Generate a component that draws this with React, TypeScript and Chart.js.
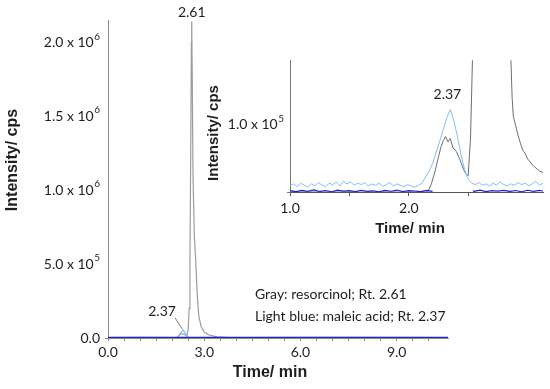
import { useEffect, useRef } from "react";
import { Chart, registerables } from "chart.js";
Chart.register(...registerables);

// ---------- Main chromatogram data ----------
const mainGrayTimes = [0, 2.1, 2.18, 2.25, 2.32, 2.4, 2.46, 2.5, 2.53, 2.555, 2.58, 2.6, 2.61, 2.625, 2.65, 2.69, 2.74, 2.78, 2.83, 2.9, 3.0, 3.15, 3.4, 4.0, 10.6];
const mainGrayValues = [0, 0, 5000, 25000, 30000, 22000, 15000, 60000, 200000, 500000, 1300000, 2000000, 2140000, 1800000, 1100000, 700000, 500000, 300000, 150000, 80000, 40000, 20000, 8000, 0, 0];
const mainBlueTimes = [0, 1.0, 2.0, 2.15, 2.22, 2.28, 2.34, 2.4, 2.45, 2.5, 4.0, 7.0, 10.6];
const mainBlueValues = [3000, 4000, 3000, 4000, 20000, 38000, 55000, 36000, 15000, 4000, 3000, 4000, 3000];
const mainNavyTimes = [0, 10.6];
const mainNavyValues = [2500, 2500];

// ---------- Inset data ----------
const insetBlueTimes = [1.00, 1.03, 1.06, 1.09, 1.12, 1.15, 1.18, 1.21, 1.24, 1.27, 1.30, 1.33, 1.36, 1.39, 1.42, 1.45, 1.48, 1.51, 1.54, 1.57, 1.60, 1.63, 1.66, 1.69, 1.72, 1.75, 1.78, 1.81, 1.84, 1.87, 1.90, 1.93, 1.96, 1.99, 2.02, 2.05, 2.08, 2.11, 2.14, 2.17, 2.20, 2.23, 2.26, 2.29, 2.32, 2.35, 2.38, 2.41, 2.44, 2.47, 2.50, 2.53, 2.56, 2.59, 2.62, 2.65, 2.68, 2.71, 2.74, 2.77, 2.80, 2.83, 2.86, 2.89, 2.92, 2.95, 2.98, 3.01, 3.04, 3.07, 3.10, 3.13];
const insetBlueValues = [9000, 12000, 8000, 13000, 10000, 7000, 12000, 9000, 14000, 10000, 8000, 13000, 11000, 15000, 9000, 16000, 12000, 15000, 10000, 13000, 11000, 14000, 9000, 12000, 10000, 13000, 8000, 11000, 14000, 9000, 12000, 10000, 8000, 11000, 9000, 7000, 10000, 13000, 22000, 30000, 42000, 58000, 75000, 92000, 110000, 122000, 105000, 82000, 55000, 33000, 19000, 13000, 11000, 14000, 10000, 12000, 9000, 13000, 10000, 15000, 11000, 9000, 12000, 10000, 14000, 11000, 13000, 9000, 12000, 16000, 10000, 13000];
const insetGrayTimes = [1.0, 2.16, 2.19, 2.22, 2.25, 2.27, 2.29, 2.31, 2.33, 2.35, 2.37, 2.4, 2.43, 2.46, 2.48, 2.5, 2.52, 2.545, 2.61, 2.84, 2.86, 2.87, 2.88, 2.9, 2.92, 2.94, 2.96, 2.98, 3.0, 3.02, 3.04, 3.06, 3.08, 3.1, 3.13];
const insetGrayValues = [0, 0, 12000, 30000, 52000, 66000, 76000, 82000, 74000, 79000, 66000, 60000, 48000, 34000, 27000, 24000, 80000, 260000, 2140000, 260000, 195000, 140000, 112000, 98000, 84000, 72000, 62000, 57000, 49000, 45000, 40000, 37000, 34000, 31000, 29000];
const insetNavyTimes = [1.00, 1.05, 1.10, 1.15, 1.20, 1.25, 1.30, 1.35, 1.40, 1.45, 1.50, 1.55, 1.60, 1.65, 1.70, 1.75, 1.80, 1.85, 1.90, 1.95, 2.00, 2.05, 2.10, 2.15, 2.20, 2.22, 2.54, 2.55, 2.60, 2.65, 2.70, 2.75, 2.80, 2.85, 2.90, 2.95, 3.00, 3.05, 3.10, 3.13];
const insetNavyValues = [2000, 500, 2500, 1000, 3000, 800, 2200, 400, 2800, 1200, 2000, 600, 2600, 900, 1800, 300, 2400, 1100, 2900, 700, 2100, 1500, 500, 2300, 1000, null, 1800, 900, 2700, 600, 2000, 1300, 2500, 800, 2200, 400, 2600, 1000, 2300, 1500];

// ---------- Tick labels / annotations ----------
const mainXLabelValues = [0, 3, 6, 9];
const mainYLabelValues = [0, 500000, 1000000, 1500000, 2000000];
const insetXLabelValues = [1, 2, 3];
const insetYLabelValues = [100000];
const grayPeak = { t: 2.61, v: 2140000, label: "2.61" };
const bluePeakMain = { t: 2.34, v: 55000, label: "2.37" };
const bluePeakInset = { t: 2.35, v: 122000, label: "2.37" };
const legendLines = ["Gray: resorcinol; Rt. 2.61", "Light blue: maleic acid; Rt. 2.37"];

const GRAY_MAIN = "#9c9c9c";
const GRAY_INSET = "#6e6e6e";
const LIGHT_BLUE = "#80bff0";
const NAVY = "#2222c8";
const TEXT = "#1e1e1e";
const AXIS = "#8a8a8a";
const TICK_FONT = "Lato, 'Open Sans', sans-serif";
const TITLE_FONT = "'Liberation Sans', Arial, sans-serif";

function pts(t: number[], v: (number | null)[]) {
  return t.map((x, i) => ({ x, y: v[i] }));
}

function onStep(v: number, step: number) {
  const r = v / step;
  return Math.abs(r - Math.round(r)) < 1e-6;
}

function drawSci(ctx: CanvasRenderingContext2D, value: number, right: number, cy: number, size: number) {
  ctx.fillStyle = TEXT;
  ctx.textBaseline = "middle";
  if (value === 0) {
    ctx.font = `${size}px ${TICK_FONT}`;
    ctx.textAlign = "right";
    ctx.fillText("0.0", right, cy);
    return;
  }
  const e = Math.floor(Math.log10(value) + 1e-9);
  const m = (value / Math.pow(10, e)).toFixed(1);
  const expSize = Math.round(size * 0.68);
  ctx.font = `${expSize}px ${TICK_FONT}`;
  const ew = ctx.measureText(String(e)).width;
  ctx.textAlign = "left";
  ctx.fillText(String(e), right - ew, cy - size * 0.42);
  ctx.font = `${size}px ${TICK_FONT}`;
  ctx.textAlign = "right";
  ctx.fillText(`${m} x 10`, right - ew - 0.5, cy);
}

function vTitle(ctx: CanvasRenderingContext2D, text: string, cx: number, cy: number, size: number) {
  ctx.save();
  ctx.translate(cx, cy);
  ctx.rotate(-Math.PI / 2);
  ctx.font = `bold ${size}px ${TITLE_FONT}`;
  ctx.fillStyle = TEXT;
  ctx.textAlign = "center";
  ctx.textBaseline = "middle";
  ctx.fillText(text, 0, 0);
  ctx.restore();
}

function hTitle(ctx: CanvasRenderingContext2D, text: string, cx: number, cy: number, size: number) {
  ctx.font = `bold ${size}px ${TITLE_FONT}`;
  ctx.fillStyle = TEXT;
  ctx.textAlign = "center";
  ctx.textBaseline = "middle";
  ctx.fillText(text, cx, cy);
}

const mainDecor = {
  id: "mainDecor",
  afterDraw(chart: any) {
    const { ctx, chartArea, scales } = chart;
    const x = scales.x, y = scales.y;
    ctx.save();
    mainYLabelValues.forEach((v) => drawSci(ctx, v, chartArea.left - 8, y.getPixelForValue(v), 14));
    vTitle(ctx, "Intensity/ cps", 13, 160, 16);
    hTitle(ctx, "Time/ min", chartArea.left + 162, chartArea.bottom + 35, 16);
    ctx.font = `14px ${TICK_FONT}`;
    ctx.fillStyle = TEXT;
    ctx.textAlign = "center";
    ctx.textBaseline = "bottom";
    ctx.fillText(grayPeak.label, x.getPixelForValue(grayPeak.t), y.getPixelForValue(grayPeak.v) - 2);
    const bx = x.getPixelForValue(bluePeakMain.t);
    const by = y.getPixelForValue(bluePeakMain.v);
    ctx.textBaseline = "middle";
    ctx.fillText(bluePeakMain.label, bx - 21, by - 18);
    ctx.strokeStyle = "#777";
    ctx.lineWidth = 1;
    ctx.beginPath();
    ctx.moveTo(bx - 8, by - 12);
    ctx.lineTo(bx - 1, by - 1);
    ctx.stroke();
    ctx.textAlign = "left";
    legendLines.forEach((line, i) => {
      ctx.fillText(line, chartArea.left + 147, chartArea.bottom - 44 + i * 22);
    });
    ctx.restore();
  },
};

const insetDecor = {
  id: "insetDecor",
  afterDraw(chart: any) {
    const { ctx, chartArea, scales } = chart;
    const x = scales.x, y = scales.y;
    ctx.save();
    insetYLabelValues.forEach((v) => drawSci(ctx, v, chartArea.left - 6, y.getPixelForValue(v), 14));
    vTitle(ctx, "Intensity/ cps", 14, 83, 15);
    hTitle(ctx, "Time/ min", chartArea.left + 120, chartArea.bottom + 37, 15);
    ctx.font = `14px ${TICK_FONT}`;
    ctx.fillStyle = TEXT;
    ctx.textAlign = "center";
    ctx.textBaseline = "bottom";
    ctx.fillText(bluePeakInset.label, x.getPixelForValue(bluePeakInset.t) - 3, y.getPixelForValue(bluePeakInset.v) - 8);
    ctx.restore();
  },
};

function lineDs(data: any, color: string, width: number) {
  return {
    data,
    borderColor: color,
    backgroundColor: color,
    borderWidth: width,
    pointRadius: 0,
    tension: 0,
    fill: false,
    spanGaps: false,
  };
}

export default function App() {
  const mainRef = useRef<HTMLCanvasElement>(null);
  const insetRef = useRef<HTMLCanvasElement>(null);

  useEffect(() => {
    const main = new Chart(mainRef.current!, {
      type: "line",
      data: {
        datasets: [
          lineDs(pts(mainNavyTimes, mainNavyValues), NAVY, 2),
          lineDs(pts(mainBlueTimes, mainBlueValues), LIGHT_BLUE, 1.2),
          lineDs(pts(mainGrayTimes, mainGrayValues), GRAY_MAIN, 1.2),
        ] as any,
      },
      options: {
        responsive: false,
        animation: false,
        devicePixelRatio: 1,
        layout: { padding: { top: 20, right: 102, left: 0, bottom: 0 } },
        plugins: { legend: { display: false }, tooltip: { enabled: false } },
        scales: {
          x: {
            type: "linear",
            min: 0,
            max: 10.6,
            afterFit: (s: any) => { s.height = 51; },
            afterBuildTicks: (s: any) => { s.ticks = s.ticks.filter((t: any) => onStep(t.value, 0.5)); },
            border: { display: true, color: AXIS, width: 1 },
            grid: { display: true, drawOnChartArea: false, drawTicks: true, tickLength: 3, color: AXIS },
            ticks: {
              stepSize: 0.5,
              autoSkip: false,
              maxRotation: 0,
              padding: 3,
              color: TEXT,
              font: { family: TICK_FONT, size: 14 },
              callback: (v: any) => (mainXLabelValues.some((m) => Math.abs(m - v) < 1e-6) ? Number(v).toFixed(1) : ""),
            },
          },
          y: {
            type: "linear",
            min: 0,
            max: 2150000,
            afterFit: (s: any) => { s.width = 108; },
            afterBuildTicks: (s: any) => { s.ticks = s.ticks.filter((t: any) => onStep(t.value, 100000)); },
            border: { display: true, color: AXIS, width: 1 },
            grid: { display: true, drawOnChartArea: false, drawTicks: true, tickLength: 3, color: AXIS },
            ticks: { stepSize: 100000, autoSkip: false, callback: () => "" },
          },
        },
      } as any,
      plugins: [mainDecor],
    });

    const inset = new Chart(insetRef.current!, {
      type: "line",
      data: {
        datasets: [
          lineDs(pts(insetNavyTimes, insetNavyValues), NAVY, 1.2),
          lineDs(pts(insetBlueTimes, insetBlueValues), LIGHT_BLUE, 1),
          lineDs(pts(insetGrayTimes, insetGrayValues), GRAY_INSET, 1),
        ] as any,
      },
      options: {
        responsive: false,
        animation: false,
        devicePixelRatio: 1,
        layout: { padding: { top: 10, right: 7, left: 0, bottom: 0 } },
        plugins: { legend: { display: false }, tooltip: { enabled: false } },
        scales: {
          x: {
            type: "linear",
            min: 1.0,
            max: 3.13,
            afterFit: (s: any) => { s.height = 58; },
            afterBuildTicks: (s: any) => { s.ticks = s.ticks.filter((t: any) => onStep(t.value, 0.5)); },
            border: { display: true, color: "#555", width: 1 },
            grid: { display: true, drawOnChartArea: false, drawTicks: true, tickLength: 4, color: "#555" },
            ticks: {
              stepSize: 0.5,
              autoSkip: false,
              maxRotation: 0,
              padding: 4,
              color: TEXT,
              font: { family: TICK_FONT, size: 14 },
              callback: (v: any) => (insetXLabelValues.some((m) => Math.abs(m - v) < 1e-6) ? Number(v).toFixed(1) : ""),
            },
          },
          y: {
            type: "linear",
            min: 0,
            max: 195000,
            afterFit: (s: any) => { s.width = 90; },
            afterBuildTicks: (s: any) => { s.ticks = s.ticks.filter((t: any) => onStep(t.value, 100000)); },
            border: { display: true, color: "#777", width: 1 },
            grid: { display: true, drawOnChartArea: false, drawTicks: true, tickLength: 3, color: "#777" },
            ticks: { stepSize: 100000, autoSkip: false, callback: () => "" },
          },
        },
      } as any,
      plugins: [insetDecor],
    });

    return () => {
      main.destroy();
      inset.destroy();
    };
  }, []);

  return (
    <div style={{ position: "fixed", left: 0, top: 0, width: 550, height: 389, background: "#fff" }}>
      <canvas ref={mainRef} width={550} height={389} style={{ position: "absolute", left: 0, top: 0, width: 550, height: 389 }} />
      <canvas ref={insetRef} width={350} height={200} style={{ position: "absolute", left: 200, top: 50, width: 350, height: 200 }} />
    </div>
  );
}
